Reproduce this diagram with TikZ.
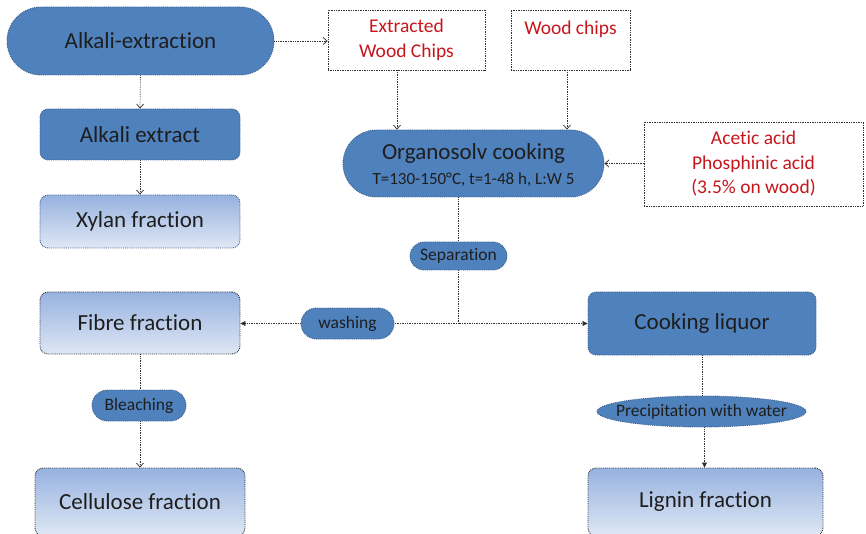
\documentclass[tikz,border=0pt]{standalone}
\usepackage{fontspec}
\setmainfont{Carlito}[Ligatures={NoCommon}]
\usetikzlibrary{arrows.meta,shapes.geometric}
\definecolor{nblue}{HTML}{4F81BD}
\definecolor{nedge}{HTML}{3B5E8C}
\definecolor{lgA}{HTML}{97B2E0}
\definecolor{lgB}{HTML}{DEE7F4}
\definecolor{rtext}{HTML}{C8161D}
\definecolor{ltext}{HTML}{1E1E1E}
\definecolor{conn}{HTML}{303030}
\tikzset{
  base/.style={draw=nedge, densely dotted, line width=0.9pt, inner sep=0pt, align=center, text=ltext},
  bluebox/.style={base, fill=nblue, rounded corners=8pt},
  lightbox/.style={base, draw=conn, rounded corners=8pt, top color=lgA, bottom color=lgB},
  pill/.style={base, fill=nblue},
  whitebox/.style={draw=conn, densely dotted, line width=0.7pt, fill=white, inner sep=0pt, align=center, text=rtext, font=\fontsize{19.5}{24.5}\selectfont},
  link/.style={draw=conn, densely dotted, line width=0.7pt},
  openarr/.style={link, -{Straight Barb[length=4pt,width=7pt]}},
  fillarr/.style={link, -{Triangle[length=5pt,width=5pt]}},
  bigf/.style={font=\fontsize{23}{26}\selectfont},
  smallf/.style={font=\fontsize{17.5}{20}\selectfont},
}
\begin{document}
\begin{tikzpicture}[x=1pt,y=1pt]
\useasboundingbox (0,0) rectangle (866,533);
% left column
\node[pill, rounded corners=34pt, minimum width=267pt, minimum height=68pt, bigf] (ae) at (140.5,492) {Alkali-extraction};
\node[bluebox, minimum width=200pt, minimum height=51pt, bigf] (ax) at (140,398.5) {Alkali extract};
\node[lightbox, draw=nedge, minimum width=200pt, minimum height=53pt, bigf] (xy) at (140,311.5) {Xylan fraction};
% top boxes
\node[whitebox, minimum width=157pt, minimum height=60pt] (ewc) at (406.5,493) {Extracted\\Wood Chips};
\node[whitebox, minimum width=119pt, minimum height=60pt] (wc) at (570.5,493) {Wood chips\\\phantom{W}};
\node[whitebox, minimum width=219pt, minimum height=84pt] (acid) at (753.5,369) {Acetic acid\\Phosphinic acid\\(3.5\% on wood)};
% organosolv
\node[pill, rounded corners=33.5pt, minimum width=261pt, minimum height=67pt] (org) at (473.5,369.5) {};
\node[text=ltext, bigf, inner sep=0pt] (orgt) at (473.5,380) {Organosolv cooking};
\node[text=ltext, font=\fontsize{17}{19}\selectfont, inner sep=0pt] (orgs) at (473.5,353) {T=130-150°C, t=1-48 h, L:W 5};
% middle
\node[pill, rounded corners=14pt, minimum width=97pt, minimum height=28pt, smallf] (sep) at (458.5,277) {Separation};
\node[pill, rounded corners=15.5pt, minimum width=93pt, minimum height=31pt, smallf] (wash) at (347.5,209.5) {washing};
\coordinate (j) at (458.5,209.5);
\node[lightbox, minimum width=200pt, minimum height=62pt, bigf] (fib) at (140,210) {Fibre fraction};
\node[bluebox, minimum width=228pt, minimum height=63pt, bigf] (cl) at (702,209.5) {Cooking liquor};
\node[pill, rounded corners=15.5pt, minimum width=94pt, minimum height=31pt, smallf] (bl) at (139,127.5) {Bleaching};
\node[base, fill=nblue, ellipse, inner xsep=-25pt, inner ysep=-8pt, minimum width=209pt, minimum height=31pt, smallf] (pw) at (701.5,121.5) {Precipitation with water};
\node[lightbox, minimum width=210pt, minimum height=68pt, bigf] (cel) at (140,31) {Cellulose fraction};
\node[lightbox, minimum width=235pt, minimum height=68pt, bigf] (lig) at (705.5,31) {Lignin fraction};
% connectors
\draw[openarr] (ae.east) -- (ewc.west |- ae.east);
\draw[openarr] (ae.south) -- (ax.north);
\draw[openarr] (ax.south) -- (xy.north);
\draw[openarr] ([xshift=-9.5pt]ewc.south) -- ([xshift=-9.5pt]ewc.south |- org.north);
\draw[openarr] ([xshift=-3.5pt]wc.south) -- ([xshift=-3.5pt]wc.south |- org.north);
\draw[openarr] (acid.west |- org.east) -- (org.east);
\draw[link] (org.south -| sep.north) -- (sep.north);
\draw[link] (sep.south) -- (j);
\draw[link] (j) -- (wash.east);
\draw[fillarr] (wash.west) -- (fib.east |- wash.west);
\draw[fillarr] (j) -- (cl.west |- j);
\draw[link] (fib.south) -- (bl.north -| fib.south);
\draw[openarr] (bl.south -| fib.south) -- (cel.north -| fib.south);
\draw[link] (cl.south) -- (pw.north -| cl.south);
\draw[fillarr] ([xshift=3pt]pw.south) -- ([xshift=3pt]pw.south |- lig.north);
\end{tikzpicture}
\end{document}
